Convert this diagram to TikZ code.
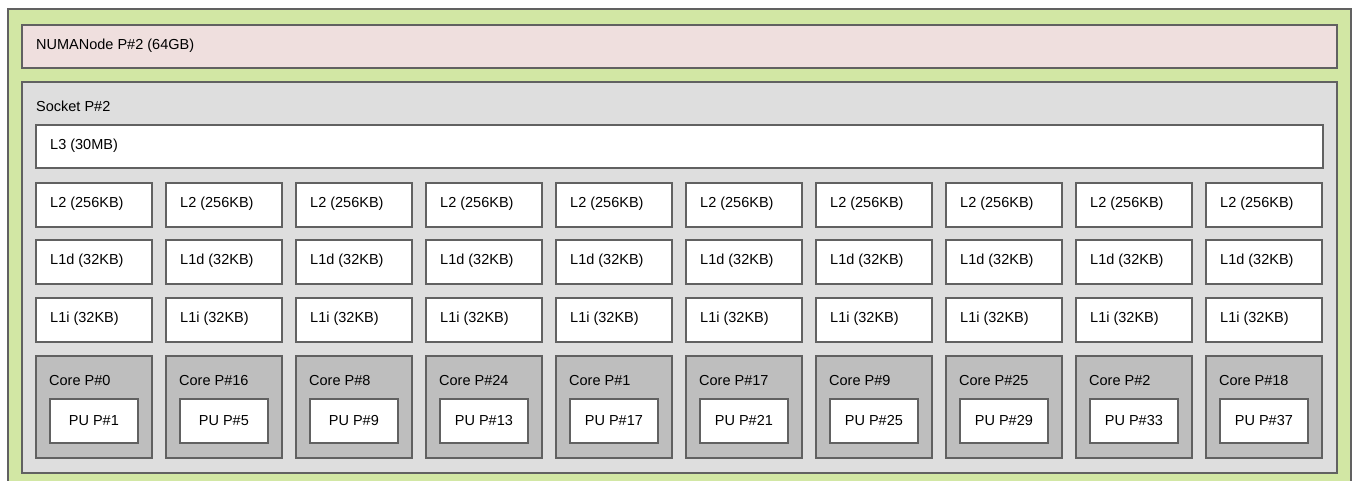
\documentclass[tikz,border=0pt]{standalone}
\usepackage{fontspec}
\setmainfont{Liberation Sans}
\usetikzlibrary{positioning}
\definecolor{machinegreen}{RGB}{210,231,164}
\definecolor{numapink}{RGB}{239,223,222}
\definecolor{socketgray}{RGB}{222,222,222}
\definecolor{coregray}{RGB}{190,190,190}
\tikzstyle{box}=[draw=black!62,line width=1.8pt,anchor=north west,inner sep=0pt]
\tikzstyle{machine}=[box,fill=machinegreen]
\tikzstyle{numa}=[box,fill=numapink]
\tikzstyle{socket}=[box,fill=socketgray]
\tikzstyle{cache}=[box,fill=white,minimum width=116pt,minimum height=44pt]
\tikzstyle{core}=[box,fill=coregray,minimum width=116pt,minimum height=102pt]
\tikzstyle{pu}=[box,fill=white,minimum width=88pt,minimum height=44pt]
\tikzstyle{lbl}=[anchor=west,inner sep=0pt,font=\fontsize{14.5}{17}\selectfont]

\begin{document}
\begin{tikzpicture}[x=1pt,y=-1pt]
    \useasboundingbox (0,0) rectangle (1353,481);

    \node[machine, minimum width=1343pt, minimum height=490pt] (machine) at (7,8) {};
    \node[numa, minimum width=1315pt, minimum height=43pt] (numa) at (21,24) {};
    \node[lbl] (numalabel) at (36,46) {NUMANode P\#2 (64GB)};
    \node[socket, minimum width=1315pt, minimum height=391pt] (socket) at (21,81) {};
    \node[lbl] (socketlabel) at (36,106) {Socket P\#2};
    \node[cache, minimum width=1287pt, minimum height=43pt] (l3) at (35,124) {};
    \node[lbl] (l3label) at (50,146) {L3 (30MB)};

     \foreach \i/\core/\pu in {0/0/1, 1/16/5, 2/8/9, 3/24/13, 4/1/17, 5/17/21, 6/9/25, 7/25/29, 8/2/33, 9/18/37}
     {
        \def\dx{35+130*\i};
        \node[cache] (l2-\i) at (\dx, 182) {};
        \node[lbl] (l2label-\i) at (\dx+15, 204) {L2 (256KB)};
        \node[cache] (l1d-\i) at (\dx, 239) {};
        \node[lbl] (l1dlabel-\i) at (\dx+15, 261) {L1d (32KB)};
        \node[cache] (l1i-\i) at (\dx, 297) {};
        \node[lbl] (l1ilabel-\i) at (\dx+15, 319) {L1i (32KB)};
        \node[core] (core-\i) at (\dx, 355) {};
        \node[lbl] (corelabel-\i) at (\dx+14, 381) {Core P\#\core};
        \node[pu] (pu-\i) at (\dx+14, 398) {};
        \node[lbl, anchor=center] (pulabel-\i) at (pu-\i.center) {PU P\#\pu};
     }

\end{tikzpicture}
\end{document}
